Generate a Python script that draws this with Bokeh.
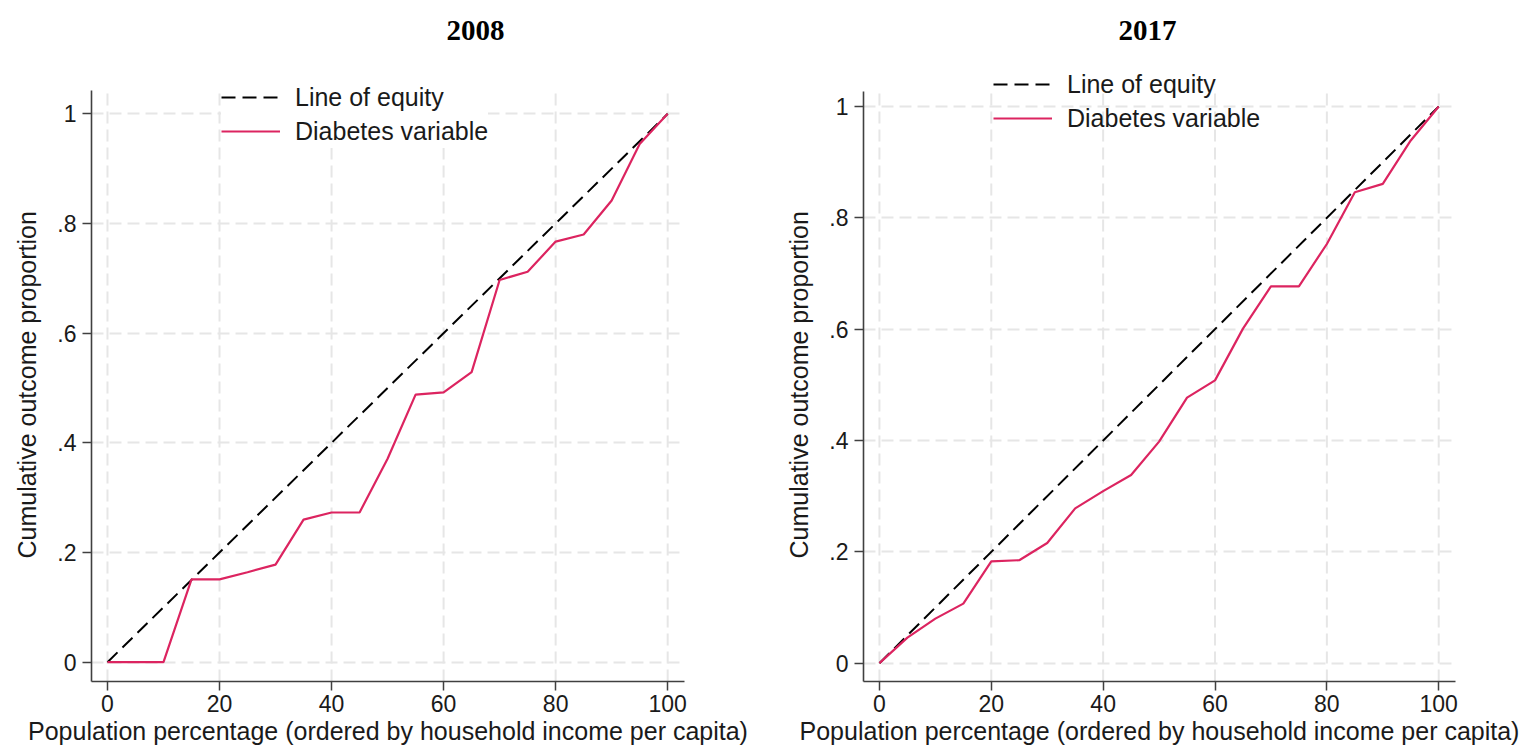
from bokeh.plotting import figure
from bokeh.layouts import row
from bokeh.models import FixedTicker, Legend, LegendItem, Range1d, Label, Title
from bokeh.embed import file_html
from bokeh.resources import INLINE

# ---- data ----
pop_pct = [0, 5, 10, 15, 20, 25, 30, 35, 40, 45, 50, 55, 60, 65, 70, 75, 80, 85, 90, 95, 100]
diab_2008 = [0.0, 0.0, 0.0, 0.151, 0.151, 0.164, 0.178, 0.260, 0.273, 0.273, 0.371, 0.488,
             0.492, 0.529, 0.697, 0.712, 0.767, 0.780, 0.842, 0.945, 1.0]
diab_2017 = [0.0, 0.046, 0.080, 0.107, 0.183, 0.185, 0.216, 0.278, 0.309, 0.338, 0.398, 0.477,
             0.508, 0.601, 0.677, 0.677, 0.753, 0.846, 0.861, 0.939, 1.0]
equity_x = [0, 100]
equity_y = [0, 1]
x_ticks = [0, 20, 40, 60, 80, 100]
y_ticks = [0, 0.2, 0.4, 0.6, 0.8, 1.0]
y_tick_labels = ["0", ".2", ".4", ".6", ".8", "1"]
titles = ["2008", "2017"]
series_names = ["Line of equity", "Diabetes variable"]
x_label = "Population percentage (ordered by household income per capita)"
y_label = "Cumulative outcome proportion"

PINK = "#dc2460"
AXIS = "#404040"
TXT = "#1a1a1a"
GRID = "#e6e6e6"
SANS = "Liberation Sans"


def make_panel(title, yvals, frame_w, mb_left, mb_right, yr, y_top, title_xy,
               legend_loc, legend_bg, ylabel_offset):
    p = figure(frame_width=frame_w, frame_height=681,
               min_border_left=mb_left, min_border_right=mb_right,
               min_border_top=0, min_border_bottom=71,
               x_range=Range1d(-2.85, 103.0), y_range=Range1d(*yr),
               output_backend="svg", toolbar_location=None)
    p.outline_line_color = None
    p.background_fill_color = "white"
    p.border_fill_color = "white"

    p.xaxis.ticker = FixedTicker(ticks=x_ticks)
    p.yaxis.ticker = FixedTicker(ticks=y_ticks)
    p.yaxis.major_label_overrides = {t: l for t, l in zip(y_ticks, y_tick_labels)}
    p.yaxis.bounds = (yr[0], y_top)
    p.xaxis.axis_label = x_label
    for ax in (p.xaxis, p.yaxis):
        ax.axis_line_color = AXIS
        ax.axis_line_width = 1.6
        ax.major_tick_line_color = AXIS
        ax.major_tick_line_width = 1.5
        ax.major_tick_out = 9
        ax.major_tick_in = 0
        ax.minor_tick_line_color = None
        ax.major_label_text_font = SANS
        ax.major_label_text_font_size = "23px"
        ax.major_label_text_color = TXT
        ax.axis_label_text_font = SANS
        ax.axis_label_text_font_size = "25px"
        ax.axis_label_text_font_style = "normal"
        ax.axis_label_text_color = TXT
    p.xaxis.major_label_standoff = 4
    p.xaxis.axis_label_standoff = 2
    p.yaxis.major_label_standoff = 6
    p.yaxis.major_label_orientation = "horizontal"

    # y-axis title, centred on the drawn part of the axis
    yt = Title(text=y_label, align="left", offset=ylabel_offset, standoff=24,
               vertical_align="top", text_font=SANS, text_font_size="25px",
               text_font_style="normal", text_color=TXT)
    p.add_layout(yt, "left")

    # horizontal grid from the axis ticker; vertical grid drawn only up to the axis top
    p.ygrid.grid_line_color = GRID
    p.ygrid.grid_line_width = 2
    p.ygrid.grid_line_dash = "12 6"
    p.xgrid.visible = False
    p.segment(x0=x_ticks, y0=[yr[0]] * len(x_ticks), x1=x_ticks, y1=[y_top] * len(x_ticks),
              line_color=GRID, line_width=2, line_dash="12 6")

    r_eq = p.line(equity_x, equity_y, line_color="black", line_width=2, line_dash="14 7")
    r_d = p.line(pop_pct, yvals, line_color=PINK, line_width=2.2)

    leg = Legend(items=[LegendItem(label=series_names[0], renderers=[r_eq]),
                        LegendItem(label=series_names[1], renderers=[r_d])],
                 location=legend_loc)
    leg.label_text_font = SANS
    leg.label_text_font_size = "25px"
    leg.label_text_color = TXT
    leg.glyph_width = 59
    leg.glyph_height = 34
    leg.label_height = 34
    leg.label_standoff = 15
    leg.spacing = 0
    leg.padding = 8
    leg.margin = 0
    leg.border_line_color = None
    leg.background_fill_color = "white"
    leg.background_fill_alpha = 1.0 if legend_bg else 0.0
    p.add_layout(leg, "center")

    t = Label(x=title_xy[0], y=title_xy[1], x_units="screen", y_units="screen",
              text=title, text_align="center", text_baseline="middle",
              text_font="Liberation Serif", text_font_style="bold",
              text_font_size="29px", text_color="black")
    p.add_layout(t)
    return p


p1 = make_panel(titles[0], diab_2008, 593, 91, 79, (-0.0352, 1.2066), 1.0425,
                (384, 651), (130, 533), True, 123)
p2 = make_panel(titles[1], diab_2017, 592, 100, 67, (-0.0329, 1.1904), 1.0275,
                (284, 651), (130, 546), False, 123)

layout = row(p1, p2)
open("out.html", "w").write(file_html(layout, INLINE))
